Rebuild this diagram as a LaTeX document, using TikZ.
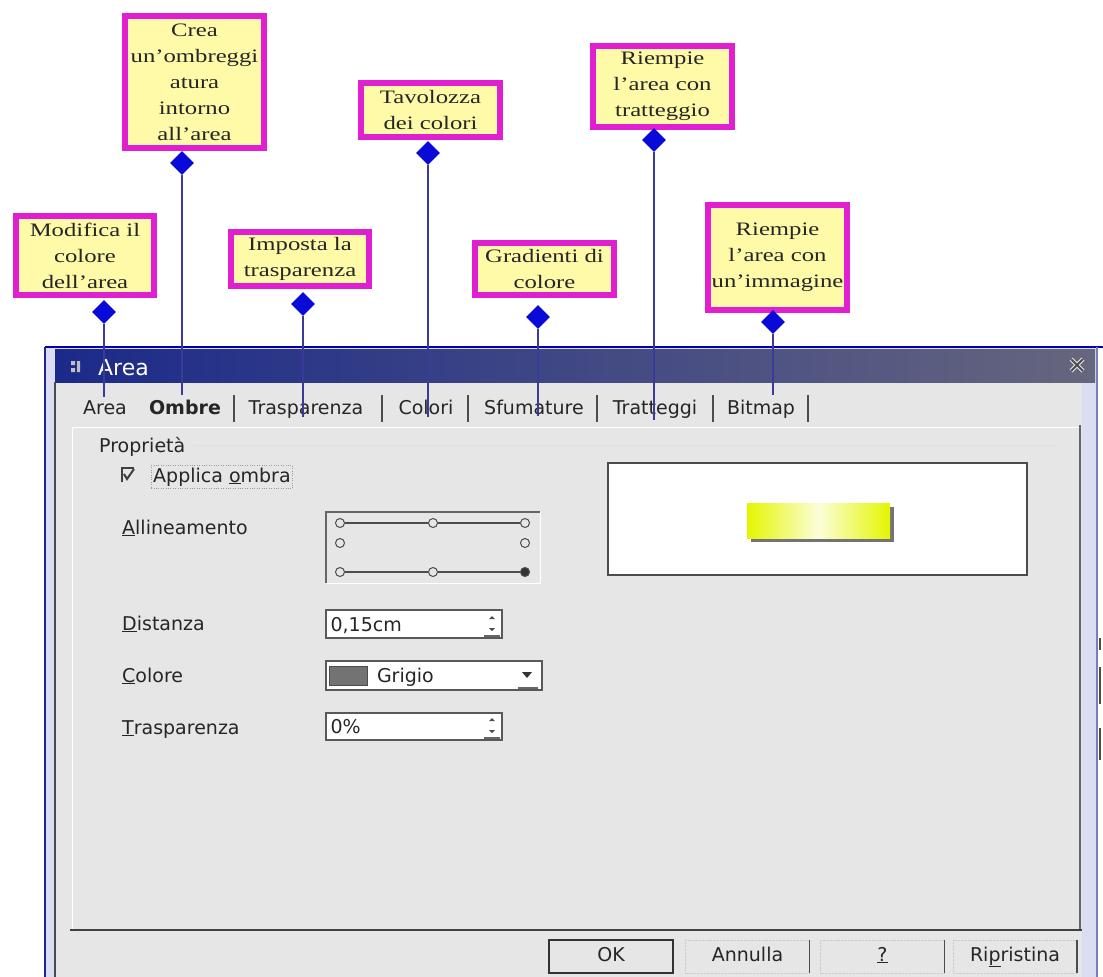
\documentclass[tikz,border=0pt]{standalone}
\usepackage{fontspec}
\usetikzlibrary{shapes.geometric,positioning}
\newfontfamily\callfont[FakeStretch=1.3]{Liberation Serif}
\newfontfamily\guifont{DejaVu Sans}
\definecolor{mag}{HTML}{E020D0}
\definecolor{callfill}{HTML}{FFFAA8}
\definecolor{pinblue}{HTML}{0A0AD8}
\definecolor{leadblue}{HTML}{3A3A9A}
\definecolor{winbg}{HTML}{E6E6E6}
\definecolor{titleL}{HTML}{1B2A8A}
\definecolor{titleR}{HTML}{66667E}
\definecolor{winframe}{HTML}{DCDCF2}
\definecolor{yel}{HTML}{E4F500}
\tikzset{
  guitxt/.style={font=\guifont\fontsize{19}{22}\selectfont, text=black!85, inner sep=0},
  field/.style={draw=black!65, line width=1.2pt, fill=white, inner sep=0},
  radio/.style={circle, draw=black!70, line width=1pt, minimum size=9pt, inner sep=0, fill=winbg}
}

\begin{document}
\begin{tikzpicture}[x=1pt,y=-1pt]
\useasboundingbox[fill=white] (0,0) rectangle (1103,977);

% dialog window
\fill[winframe] (45,347) rectangle (1097,977);
\fill[winbg] (55,382) rectangle (1082,977);
\fill[left color=titleL, right color=titleR] (55,349) rectangle (1095,382);
\draw[blue!70!black, line width=2pt] (45,347) -- (1103,347);
\draw[titleL, line width=2pt] (45,347) -- (45,977);
\draw[black!70, line width=1.2pt] (55,382) -- (55,977);
\draw[titleL!60, line width=1.5pt] (1097,347) -- (1097,977);
\fill[gray!50] (71,361) rectangle (75,365) (71,368) rectangle (75,372) (77,361) rectangle (80,372);
\node[font=\guifont\fontsize{22}{26}\selectfont, text=white, anchor=base west, inner sep=0] (title) at (98,375) {Area};
\draw[white!80!gray, line width=4pt] (1071,359) -- (1083,371) (1071,371) -- (1083,359);
\draw[black!70, line width=2pt] (1071,359) -- (1083,371) (1071,371) -- (1083,359);

% tabs
\begin{scope}[every node/.style={guitxt, anchor=base}]
  \node (tArea) at (105,414) {Area};
  \node[font=\guifont\bfseries\fontsize{19}{22}\selectfont] (tOmbre) at (185,414) {Ombre};
  \node (tTras) at (306,414) {Trasparenza};
  \node (tCol) at (426,414) {Colori};
  \node (tSfu) at (534,414) {Sfumature};
  \node (tTrat) at (655,414) {Tratteggi};
  \node (tBit) at (761,414) {Bitmap};
\end{scope}
\foreach \x in {234,382,468,597,713,808}
  \draw[black!70, line width=1.5pt] (\x,395) -- (\x,422);

% panel
\draw[white, line width=1pt] (72,930) -- (72,427) -- (1080,427);
\draw[black!60, line width=1.5pt] (1080,425) -- (1080,930);
\draw[black!75, line width=1.5pt] (70,930) -- (1082,930);
\draw[black!12] (195,445) -- (1055,445);

\begin{scope}[every node/.style={guitxt, anchor=base west}]
  \node (lProp) at (99,452) {Proprietà};
  \node[draw=black!40, dotted, inner sep=2pt] (lAppl) at (151,482) {Applica \underline{o}mbra};
  \node (lAll) at (122,534) {\underline{A}llineamento};
  \node (lDist) at (122,630) {\underline{D}istanza};
  \node (lCol) at (122,682) {\underline{C}olore};
  \node (lTras) at (122,734) {\underline{T}rasparenza};
\end{scope}
% check mark
\draw[black!75, line width=1.5pt] (122,482) -- (122,468) -- (134,468);
\draw[black!75, line width=2pt] (124,474) -- (127,479) -- (134,469);

% alignment box
\draw[black!60, line width=1.5pt] (326,583) -- (326,512) -- (540,512);
\draw[white, line width=1pt] (326,583) -- (540,583) -- (540,512);
\node[radio] (rTL) at (340,523) {};
\node[radio] (rTC) at (433,523) {};
\node[radio] (rTR) at (525,523) {};
\node[radio] (rML) at (340,543) {};
\node[radio] (rMR) at (525,543) {};
\node[radio] (rBL) at (340,572) {};
\node[radio] (rBC) at (433,572) {};
\node[radio, fill=black!80] (rBR) at (525,572) {};
\draw[black!70, line width=1.2pt] (rTL) -- (rTC) (rTC) -- (rTR) (rBL) -- (rBC) (rBC) -- (rBR);

% fields
\node[field, minimum width=176pt, minimum height=28pt] (fDist) at (414,624) {};
\node[guitxt, anchor=base west] (vDist) at ([xshift=5pt,yshift=-7pt]fDist.west) {0,15cm};
\node[field, minimum width=216pt, minimum height=29pt] (fCol) at (434,675.5) {};
\node[draw=black!70, fill=black!55, minimum width=38pt, minimum height=19pt, inner sep=0, anchor=west] (sw) at ([xshift=4pt]fCol.west) {};
\node[guitxt, anchor=base west] (vCol) at ([xshift=9pt,yshift=-7pt]sw.east) {Grigio};
\fill[black!80] (522,672) -- (532,672) -- (527,678) -- cycle;
\draw[black!60, line width=1.2pt] (518,688) -- (538,688);
\node[field, minimum width=176pt, minimum height=27pt] (fTras) at (414,726.5) {};
\node[guitxt, anchor=base west] (vTras) at ([xshift=5pt,yshift=-7pt]fTras.west) {0\%};
\foreach \y in {624,726} {
  \fill[black!70] (489,\y-5) -- (495,\y-5) -- (492,\y-8) -- cycle;
  \fill[black!70] (489,\y+4) -- (495,\y+4) -- (492,\y+7) -- cycle;
  \draw[black!60, line width=1.2pt] (484,\y+12) -- (500,\y+12);
}

% preview
\node[draw=black!70, line width=1.5pt, fill=white, minimum width=419pt, minimum height=112pt] (prev) at (817.5,519) {};
\fill[black!55] (751,507) rectangle (894,542);
\fill[left color=yel, right color=yel, middle color=yel!15!white] (747,503) rectangle (890,538);

% buttons
\begin{scope}[every node/.style={guitxt, minimum width=124pt, minimum height=33pt, text height=14pt, text depth=5pt}]
  \node[draw=black!80, line width=1.5pt] (bOK) at (611,956.5) {OK};
  \node[draw=black!20, densely dotted] (bAnn) at (747.5,956.5) {Annulla};
  \node[draw=black!20, densely dotted] (bHelp) at (882.5,956.5) {\underline{?}};
  \node[draw=black!20, densely dotted] (bRip) at (1015,956.5) {Ri\underline{p}ristina};
\end{scope}
\foreach \b in {bAnn,bHelp,bRip}
  \draw[black!70, line width=1.5pt] (\b.north east) -- (\b.south east);

% window behind, right edge
\draw[black!70, line width=1.5pt] (1100,638) -- (1100,650) (1100,667) -- (1100,704) (1100,728) -- (1100,760);

% callouts
\begin{scope}[every node/.style={draw=mag, line width=6pt, fill=callfill, inner sep=1pt, align=center,
              font=\callfont\fontsize{19}{26}\selectfont, text=black!85}]
  \node[minimum width=138pt, minimum height=79pt] (mod) at (85,255.5) {Modifica il\\colore\\dell’area};
  \node[minimum width=139pt, minimum height=132pt] (crea) at (194.5,82) {Crea\\un’ombreggi\\atura\\intorno\\all’area};
  \node[minimum width=138pt, minimum height=54pt] (imp) at (300,259) {Imposta la\\trasparenza};
  \node[minimum width=139pt, minimum height=54pt] (tav) at (430.5,110) {Tavolozza\\dei colori};
  \node[minimum width=139pt, minimum height=52pt] (grad) at (544.5,269) {Gradienti di\\colore};
  \node[minimum width=139pt, minimum height=81pt] (trat) at (662.5,86.5) {Riempie\\l’area con\\tratteggio};
  \node[minimum width=139pt, minimum height=105pt] (bit) at (777.5,257.5) {Riempie\\l’area con\\un’immagine};
\end{scope}

\begin{scope}[every node/.style={diamond, fill=pinblue, inner sep=0, minimum size=24pt}]
  \node (dMod) at (104,312) {};
  \node (dCrea) at (182,163) {};
  \node (dImp) at (303,304) {};
  \node (dTav) at (428,153) {};
  \node (dGrad) at (538,317) {};
  \node (dTrat) at (654,140) {};
  \node (dBit) at (773,322) {};
\end{scope}

\coordinate (eMod) at (104,397);
\coordinate (eCrea) at (182,395);
\coordinate (eImp) at (303,417);
\coordinate (eTav) at (428,417);
\coordinate (eGrad) at (538,416);
\coordinate (eTrat) at (654,420);
\coordinate (eBit) at (773,395);

\begin{scope}[every edge/.style={draw=leadblue, line width=1.5pt}]
  \path (dMod) edge (eMod);
  \path (dCrea) edge (eCrea);
  \path (dImp) edge (eImp);
  \path (dTav) edge (eTav);
  \path (dGrad) edge (eGrad);
  \path (dTrat) edge (eTrat);
  \path (dBit) edge (eBit);
\end{scope}
\end{tikzpicture}
\end{document}
